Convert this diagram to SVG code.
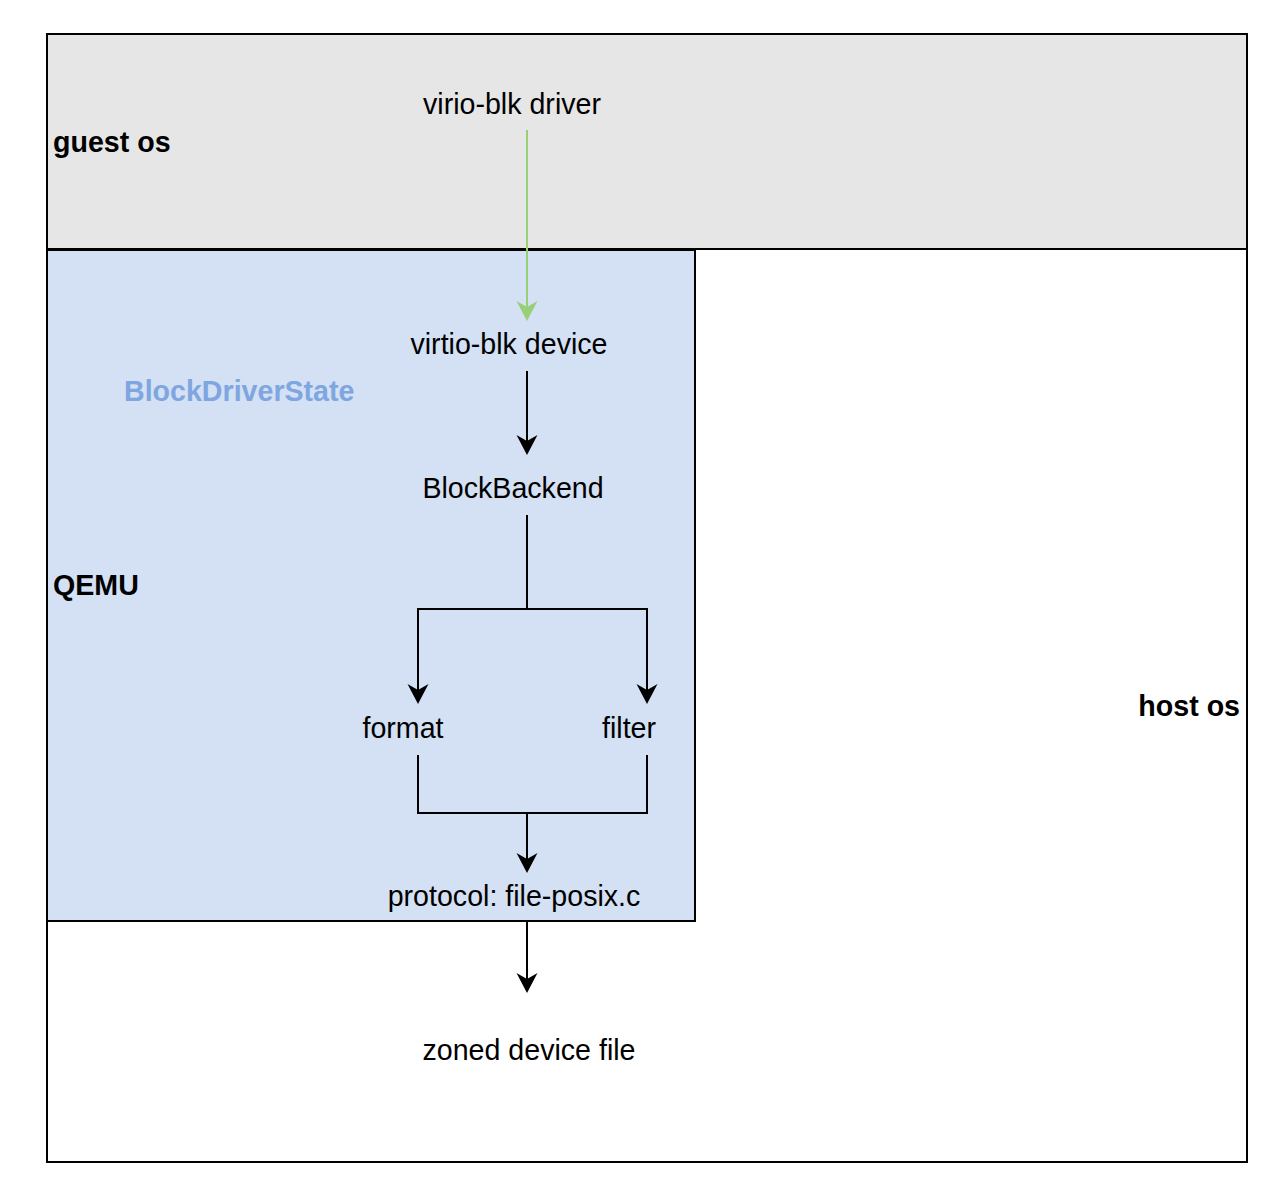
<svg xmlns="http://www.w3.org/2000/svg" width="1278" height="1196" viewBox="0 0 1278 1196">
<style>
text{font-family:"Liberation Sans",Arial,Helvetica,sans-serif;font-size:28.6px;fill:#000}
.b{font-weight:bold}
.m{text-anchor:middle}
.box{stroke:#000;stroke-width:2}
.ln{fill:none;stroke:#000;stroke-width:2}
</style>
<defs>
<marker id="ah" viewBox="-10 -12 24 24" markerWidth="24" markerHeight="24" refX="0" refY="0" orient="auto" markerUnits="userSpaceOnUse">
<path d="M12,0 L-8,-10.5 L-2,0 L-8,10.5 Z" fill="#000"/>
</marker>
<marker id="ahg" viewBox="-10 -12 24 24" markerWidth="24" markerHeight="24" refX="0" refY="0" orient="auto" markerUnits="userSpaceOnUse">
<path d="M12,0 L-8,-10.5 L-2,0 L-8,10.5 Z" fill="#97D077"/>
</marker>
</defs>
<g id="host-os">
<rect class="box" x="47" y="249" width="1200" height="913" fill="#fff"/>
<text class="b" x="1240" y="716" text-anchor="end">host os</text>
</g>
<g id="guest-os">
<rect class="box" x="47" y="34" width="1200" height="215" fill="#E6E6E6"/>
<text class="b" x="53" y="152">guest os</text>
</g>
<g id="qemu">
<rect class="box" x="47" y="250" width="648" height="671" fill="#D4E0F3"/>
<text class="b" x="53" y="595">QEMU</text>
</g>
<g id="block-driver-state">
<text class="b" x="124" y="401" style="fill:#7EA6E0">BlockDriverState</text>
</g>
<g id="virio-blk-driver"><text class="m" x="512" y="114">virio-blk driver</text></g>
<g id="virtio-blk-device"><text class="m" x="509" y="354">virtio-blk device</text></g>
<g id="block-backend"><text class="m" x="513" y="498">BlockBackend</text></g>
<g id="format"><text class="m" x="403" y="738">format</text></g>
<g id="filter"><text class="m" x="629" y="738">filter</text></g>
<g id="protocol"><text class="m" x="514" y="906">protocol: file-posix.c</text></g>
<g id="zoned-device-file"><text class="m" x="529" y="1060">zoned device file</text></g>
<g id="connectors">
<path d="M527,130 L527,309" fill="none" stroke="#97D077" stroke-width="2" marker-end="url(#ahg)"/>
<path class="ln" d="M527,371 L527,443" marker-end="url(#ah)"/>
<path class="ln" d="M527,515 L527,609 L418,609 L418,692" marker-end="url(#ah)"/>
<path class="ln" d="M527,609 L647,609 L647,692" marker-end="url(#ah)"/>
<path class="ln" d="M418,755 L418,813 L527,813 L527,861" marker-end="url(#ah)"/>
<path class="ln" d="M647,755 L647,813 L527,813"/>
<path class="ln" d="M527,921 L527,981" marker-end="url(#ah)"/>
</g>
</svg>
